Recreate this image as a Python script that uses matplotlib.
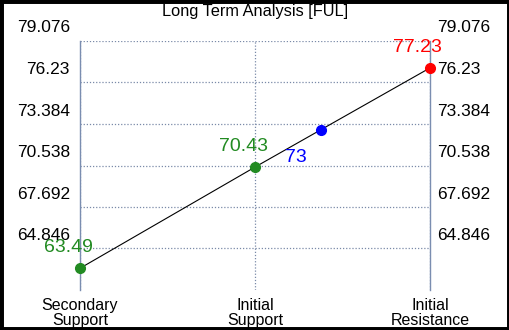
import matplotlib
matplotlib.use("Agg")
import matplotlib.pyplot as plt
import matplotlib.transforms as mtransforms
from matplotlib.patches import Rectangle

plt.rcParams['font.family'] = ['Liberation Sans', 'DejaVu Sans']

categories = ['Secondary\nSupport', 'Initial\nSupport', 'Initial\nResistance']
levels = [63.49, 70.43, 77.23]
level_colors = ['#228B22', '#228B22', '#FF0000']
current = 73
ticks = [64.846, 67.692, 70.538, 73.384, 76.23, 79.076]
tick_labels = ['64.846', '67.692', '70.538', '73.384', '76.23', '79.076']

fig = plt.figure(figsize=(5.1, 3.3), dpi=100)
ax = fig.add_axes([80 / 510, 40 / 330, 350 / 510, 249 / 330])

xs = list(range(len(levels)))
ax.plot(xs, levels, color='black', lw=0.8, zorder=2)
for x, v, c in zip(xs, levels, level_colors):
    ax.plot(x, v, 'o', color=c, ms=7, zorder=3, clip_on=False)

# current price sits on the line between support and resistance
cx = 1 + (current - levels[1]) / (levels[2] - levels[1])
ax.plot(cx, current, 'o', color='#0000FF', ms=7, zorder=3)

ax.annotate(f'{levels[0]:.2f}', (xs[0], levels[0]), xytext=(-8, 15),
            textcoords='offset points', color=level_colors[0], fontsize=14,
            ha='center', va='center')
ax.annotate(f'{levels[1]:.2f}', (xs[1], levels[1]), xytext=(-8, 15),
            textcoords='offset points', color=level_colors[1], fontsize=14,
            ha='center', va='center')
ax.annotate(f'{current}', (cx, current), xytext=(-18, -20),
            textcoords='offset points', color='#0000FF', fontsize=14,
            ha='center', va='center')
ax.annotate(f'{levels[2]:.2f}', (xs[2], levels[2]), xytext=(-9, 15),
            textcoords='offset points', color=level_colors[2], fontsize=14,
            ha='center', va='center')

ax.set_xlim(0, 2)
ax.set_ylim(62.0, 79.076)
ax.set_xticks(xs)
ax.set_xticklabels(categories, fontsize=11.5, linespacing=0.95)
ax.set_yticks(ticks)
ax.set_yticklabels([])
ax.tick_params(axis='y', length=0)
ax.tick_params(axis='x', length=0, pad=6)

# y labels on both sides, sitting a bit above their grid lines
ytr = ax.get_yaxis_transform()
up = mtransforms.ScaledTranslation(0, 13 / 100, fig.dpi_scale_trans)
left = mtransforms.ScaledTranslation(-10 / 100, 0, fig.dpi_scale_trans)
right = mtransforms.ScaledTranslation(7 / 100, 0, fig.dpi_scale_trans)
for t, lab in zip(ticks, tick_labels):
    ax.text(0, t, lab, transform=ytr + up + left, ha='right', va='center',
            fontsize=12.5, clip_on=False)
    ax.text(1, t, lab, transform=ytr + up + right, ha='left', va='center',
            fontsize=12.5, clip_on=False)

ax.grid(True, color='#7a8aa8', ls=(0, (1, 1.5)), lw=0.9)
for s in ['top', 'bottom']:
    ax.spines[s].set_visible(False)
for s in ['left', 'right']:
    ax.spines[s].set_color('#7a8db0')
    ax.spines[s].set_linewidth(1.0)

fig.text(0.5, 0.965, 'Long Term Analysis [FUL]', ha='center', va='center', fontsize=11.8)
fig.patches.append(Rectangle((0, 0), 1, 1, transform=fig.transFigure,
                             fill=False, ec='black', lw=5))

fig.savefig('out.png', dpi=100)
